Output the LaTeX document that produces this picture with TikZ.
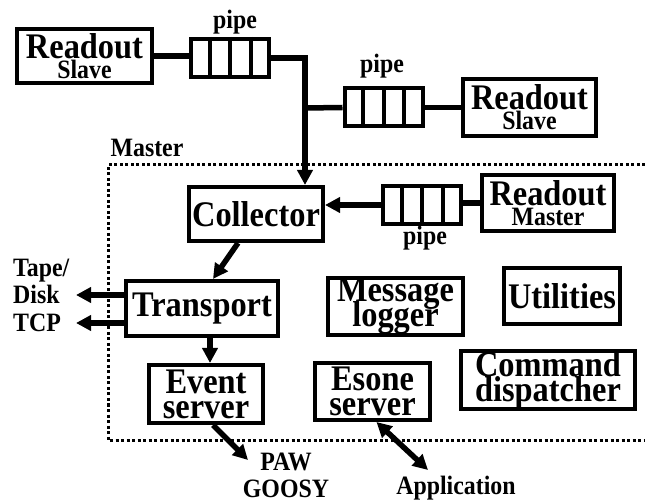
\documentclass[tikz,border=0pt]{standalone}
\usepackage{fontspec}
\setmainfont{Liberation Serif}[FakeStretch=0.9]
\usetikzlibrary{arrows.meta}
\usetikzlibrary{calc}
\usetikzlibrary{positioning}
\newcommand\boxfont{\fontsize{36}{25}\selectfont\bfseries\lineskiplimit=-100pt\relax}
\newcommand\labfont{\fontsize{26.5}{27}\selectfont\bfseries\lineskiplimit=-100pt\relax}

\begin{document}
\begin{tikzpicture}[x=1pt,y=-1pt,
>={Triangle[length=15pt,width=15pt]},
unit/.style = {draw, line width=4pt, inner sep=0pt, align=center, font=\boxfont},
pipe_n/.style = {draw, line width=4pt, inner sep=0pt, minimum width=78pt, minimum height=38pt},
lab/.style = {inner sep=0pt, font=\labfont},
conn/.style = {line width=5.5pt},
flow/.style = {conn, ->},
frame/.style = {line width=3pt, dash pattern=on 3pt off 2.5pt}
]
\useasboundingbox (0,0) rectangle (645,502);

% master frame
\draw[frame] (645,165) -| (108,440) -- (645,440);

\node (slaveA) [unit, minimum width=135pt, minimum height=54pt] at (84.5,56) {Readout\\[-5pt]{\labfont Slave}};
\node (pipeA) [pipe_n] at (230,58) {};
\node (pipeB) [pipe_n] at (383.5,107.5) {};
\node (slaveB) [unit, minimum width=133pt, minimum height=57pt] at (529.5,107.5) {Readout\\[-5pt]{\labfont Slave}};
\node (collector) [unit, minimum width=134pt, minimum height=54pt] at (256,214) {Collector};
\node (pipeC) [pipe_n] at (422,205) {};
\node (readM) [unit, minimum width=132pt, minimum height=56pt] at (548,203) {Readout\\[-5pt]{\labfont Master}};
\node (transport) [unit, minimum width=152pt, minimum height=55pt] at (202,308.5) {Transport};
\node (msglog) [unit, minimum width=135pt, minimum height=57pt] at (395.5,306.5) {Message\\logger};
\node (utils) [unit, minimum width=116pt, minimum height=56pt] at (562,296) {Utilities};
\node (cmddisp) [unit, minimum width=174pt, minimum height=58pt] at (548,380) {Command\\dispatcher};
\node (evserver) [unit, minimum width=114pt, minimum height=58pt] at (206,394) {Event\\server};
\node (esone) [unit, minimum width=115pt, minimum height=57pt] at (372.5,391.5) {Esone\\server};

% pipe cells
\foreach \p in {pipeA,pipeB,pipeC}
  \foreach \i in {1,2,3}
    \draw[line width=4pt] ($(\p.north west)!\i/4!(\p.north east)$) -- ($(\p.south west)!\i/4!(\p.south east)$);

\node (pipeAlab) [lab, anchor=base] at (235,29) {pipe};
\node (pipeBlab) [lab, anchor=base] at (382,73) {pipe};
\node (pipeClab) [lab, anchor=base] at (425,245) {pipe};
\node (mlab) [lab, anchor=base] at (147,157) {Master};
\node (tapelab) [lab, anchor=west, align=left] at (13,281) {Tape/\\Disk};
\node (tcplab) [lab, anchor=base west] at (13,332) {TCP};
\node (pawlab) [lab, align=center, anchor=south] at (286,498) {PAW\\GOOSY};
\node (applab) [lab, anchor=base] at (456,494) {Application};

\coordinate (trunk) at (305,108);
\coordinate (tape) at (76,295);
\coordinate (tcp) at (76,323);
\coordinate (paw) at (248,460);
\coordinate (appl) at (428,470);

\draw[conn] (slaveA.east) -- (slaveA.east -| pipeA.west);
\draw[flow] (pipeA.east) -| (trunk) -- (trunk |- collector.north);
\draw[conn] (trunk) -- (pipeB.west);
\draw[conn] (pipeB.east) -- (slaveB.west);
\draw[conn] (readM.west) -- (readM.west -| pipeC.east);
\draw[flow] (pipeC.west) -- (collector.east |- pipeC.west);
\draw[flow] ([xshift=-18pt]collector.south) -- ([xshift=11pt]transport.north);
\draw[flow] (transport.west |- tape) -- (tape);
\draw[flow] (transport.west |- tcp) -- (tcp);
\draw[flow] ([xshift=8pt]transport.south) -- ([xshift=8pt]transport.south |- evserver.north);
\draw[flow] ([xshift=7pt]evserver.south) -- (paw);
\draw[conn, <->] ([xshift=4pt]esone.south) -- (appl);
\end{tikzpicture}
\end{document}
